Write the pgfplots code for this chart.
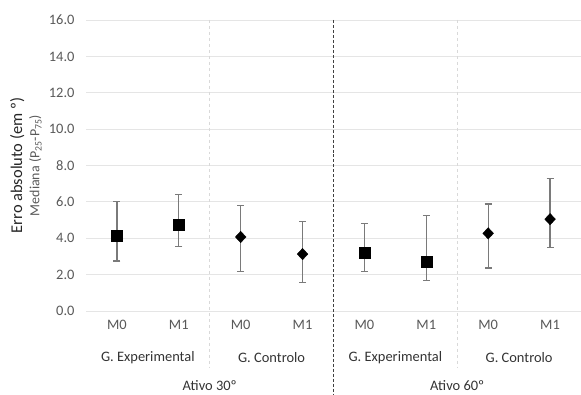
\documentclass[border=0pt]{standalone}
\usepackage{pgfplots}
\pgfplotsset{compat=1.18}
\usepackage{pgfplotstable}
\usepackage{fontspec}
\setmainfont{Carlito}
\definecolor{ticktxt}{HTML}{595959}
\definecolor{errgray}{HTML}{7A7A7A}
\pgfplotstableread{
x y ep em
0 4.12 1.92 1.37
1 4.74 1.67 1.21
4 3.20 1.62 1.02
5 2.71 2.53 1.04
}\expdata
\pgfplotstableread{
x y ep em
2 4.07 1.74 1.89
3 3.13 1.78 1.57
6 4.27 1.61 1.91
7 5.05 2.24 1.55
}\ctrldata
\begin{document}
\begin{tikzpicture}
\begin{axis}[
  name=main,
  scale only axis,
  width=495bp, height=291bp,
  xmin=-0.5, xmax=7.5, ymin=0, ymax=16,
  clip=false,
  axis line style={draw=none},
  major tick length=0pt,
  ytick={0,2,...,16},
  ymajorgrids,
  grid style={color=black!10, line width=0.8bp},
  xtick={0,...,7},
  xticklabels={M0,M1,M0,M1,M0,M1,M0,M1},
  /pgf/number format/assume math mode=true,
  yticklabel={\pgfmathprintnumber[fixed,fixed zerofill,precision=1]{\tick}},
  tick label style={font=\fontsize{14.5}{17}\selectfont, text=ticktxt},
  yticklabel style={xshift=-8bp},
  xticklabel style={yshift=-6bp},
]
\draw[black!15, dashed, line width=0.8bp] (axis cs:1.5,16) -- ([yshift=-56bp]axis cs:1.5,0);
\draw[black!15, dashed, line width=0.8bp] (axis cs:5.5,16) -- ([yshift=-56bp]axis cs:5.5,0);
\draw[black!75, densely dashed, line width=1.2bp] (axis cs:3.5,16) -- ([yshift=-90bp]axis cs:3.5,0);
\addplot[only marks, mark=square*, mark size=5.4bp, black,
  error bars/.cd, y dir=both, y explicit,
  error bar style={color=errgray, line width=1.2bp},
  error mark options={errgray, rotate=90, mark size=3.5bp, line width=1.2bp}]
  table[x=x, y=y, y error plus=ep, y error minus=em]{\expdata};
\addplot[only marks, mark=diamond*, mark size=5.7bp, black, mark options={xscale=1.25},
  error bars/.cd, y dir=both, y explicit,
  error bar style={color=errgray, line width=1.2bp},
  error mark options={errgray, rotate=90, mark size=3.5bp, line width=1.2bp}]
  table[x=x, y=y, y error plus=ep, y error minus=em]{\ctrldata};
\node[rotate=90, text=black!85, font=\fontsize{16.5}{19}\selectfont] at (axis description cs:-0.139,0.5) {Erro absoluto (em º)};
\node[rotate=90, text=ticktxt, font=\fontsize{14}{16}\selectfont] at (axis description cs:-0.102,0.5) {Mediana (P\textsubscript{25}-P\textsubscript{75})};
\begin{scope}[every node/.style={font=\fontsize{14.5}{17}\selectfont, text=black!80}]
\node at ([yshift=-47bp]axis cs:0.5,0) {G. Experimental};
\node at ([yshift=-47bp]axis cs:2.5,0) {G. Controlo};
\node at ([yshift=-47bp]axis cs:4.5,0) {G. Experimental};
\node at ([yshift=-47bp]axis cs:6.5,0) {G. Controlo};
\node at ([yshift=-75bp]axis cs:1.5,0) {Ativo 30º};
\node at ([yshift=-75bp]axis cs:5.5,0) {Ativo 60º};
\end{scope}
\end{axis}
\pgfresetboundingbox
\path ([xshift=-86bp,yshift=-83bp]main.south west) rectangle ([yshift=20bp]main.north east);
\end{tikzpicture}
\end{document}
